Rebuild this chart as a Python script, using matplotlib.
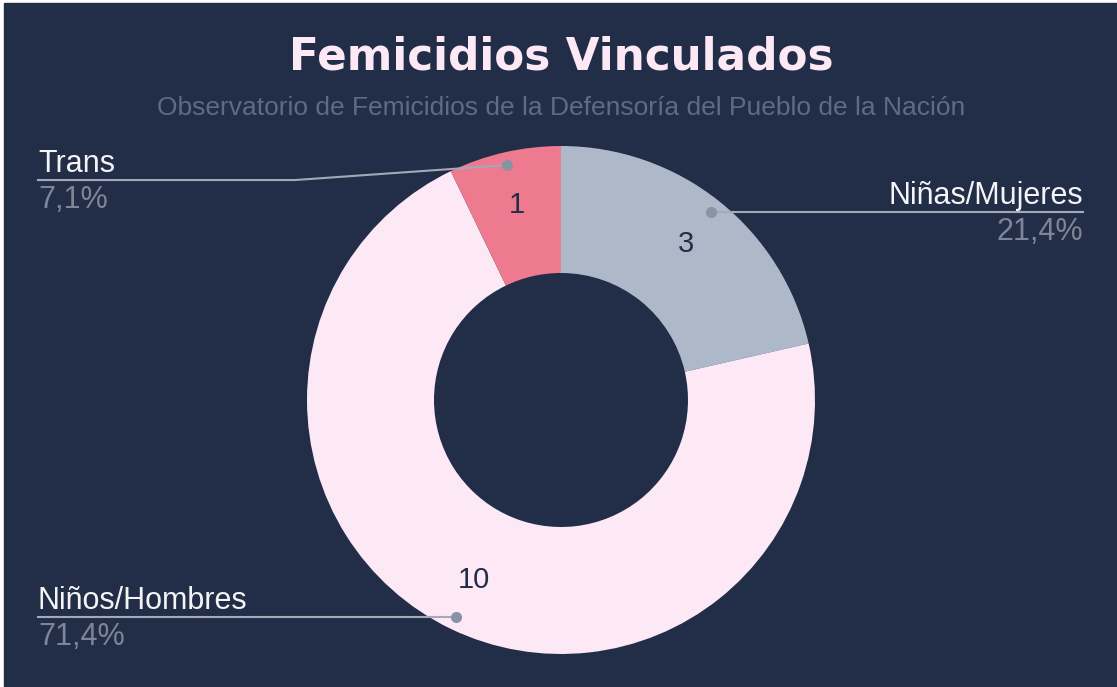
import numpy as np
import matplotlib.pyplot as plt
from matplotlib.patches import Rectangle

categories = ['Niñas/Mujeres', 'Niños/Hombres', 'Trans']
values = [3, 10, 1]
colors = ['#adb8c9', '#fde8f5', '#ee7a8f']

BG = '#222d47'
W, H = 1117, 687

fig = plt.figure(figsize=(W / 100, H / 100), dpi=100)
fig.patch.set_facecolor('white')
ax = fig.add_axes([0, 0, 1, 1])

# centre and radii in pixel units (y counted from the bottom)
cx, cy = 561, H - 400
R, r_in = 254, 127

wedges, _ = ax.pie(values, colors=colors, startangle=90, counterclock=False,
                   radius=R, center=(cx, cy), wedgeprops=dict(width=R - r_in))
ax.set_xlim(0, W)
ax.set_ylim(0, H)
ax.set_aspect('equal')
ax.axis('off')
# dark panel with a thin white margin on the left and top
ax.add_patch(Rectangle((4, 0), W - 4, H - 3, color=BG, zorder=-5))

total = sum(values)
font = ['Liberation Sans', 'DejaVu Sans']
line_c = '#a3a9b6'
dot_c = '#8a93a3'

for w, cat, v in zip(wedges, categories, values):
    mid = np.deg2rad((w.theta1 + w.theta2) / 2)
    lx, ly = cx + 200 * np.cos(mid), cy + 200 * np.sin(mid)
    ax.text(lx, ly, str(v), ha='center', va='center', fontsize=21,
            color=BG, family=font)
    dx, dy = cx + 241 * np.cos(mid), cy + 241 * np.sin(mid)
    ax.plot(dx, dy, 'o', ms=7, color=dot_c, zorder=5)
    pct = f'{v / total * 100:.1f}%'.replace('.', ',')
    if np.cos(mid) > 0:
        x_end, y_line = 1083, dy
        ax.plot([dx, x_end], [y_line, y_line], color=line_c, lw=1.5, zorder=4)
        ha = 'right'
    else:
        x_end = 38
        y_line = dy - 15 if np.sin(mid) > 0 else dy
        elbow = 295 if np.sin(mid) > 0 else dx
        ax.plot([dx, elbow, x_end], [dy, y_line, y_line], color=line_c,
                lw=1.5, zorder=4)
        ha = 'left'
    ax.text(x_end, y_line + 1, cat, ha=ha, va='bottom', fontsize=22,
            color='#f4f4f6', family=font)
    ax.text(x_end, y_line - 5, pct, ha=ha, va='top', fontsize=22,
            color='#7d8596', family=font)

ax.text(cx, H - 57, 'Femicidios Vinculados', ha='center', va='center',
        fontsize=31.5, fontweight='heavy', color='#fde8f5', family='DejaVu Sans')
ax.text(cx, H - 108, 'Observatorio de Femicidios de la Defensoría del Pueblo de la Nación',
        ha='center', va='center', fontsize=19, color='#5f6b83', family=font)

fig.savefig('out.png', dpi=100, facecolor=fig.get_facecolor())
